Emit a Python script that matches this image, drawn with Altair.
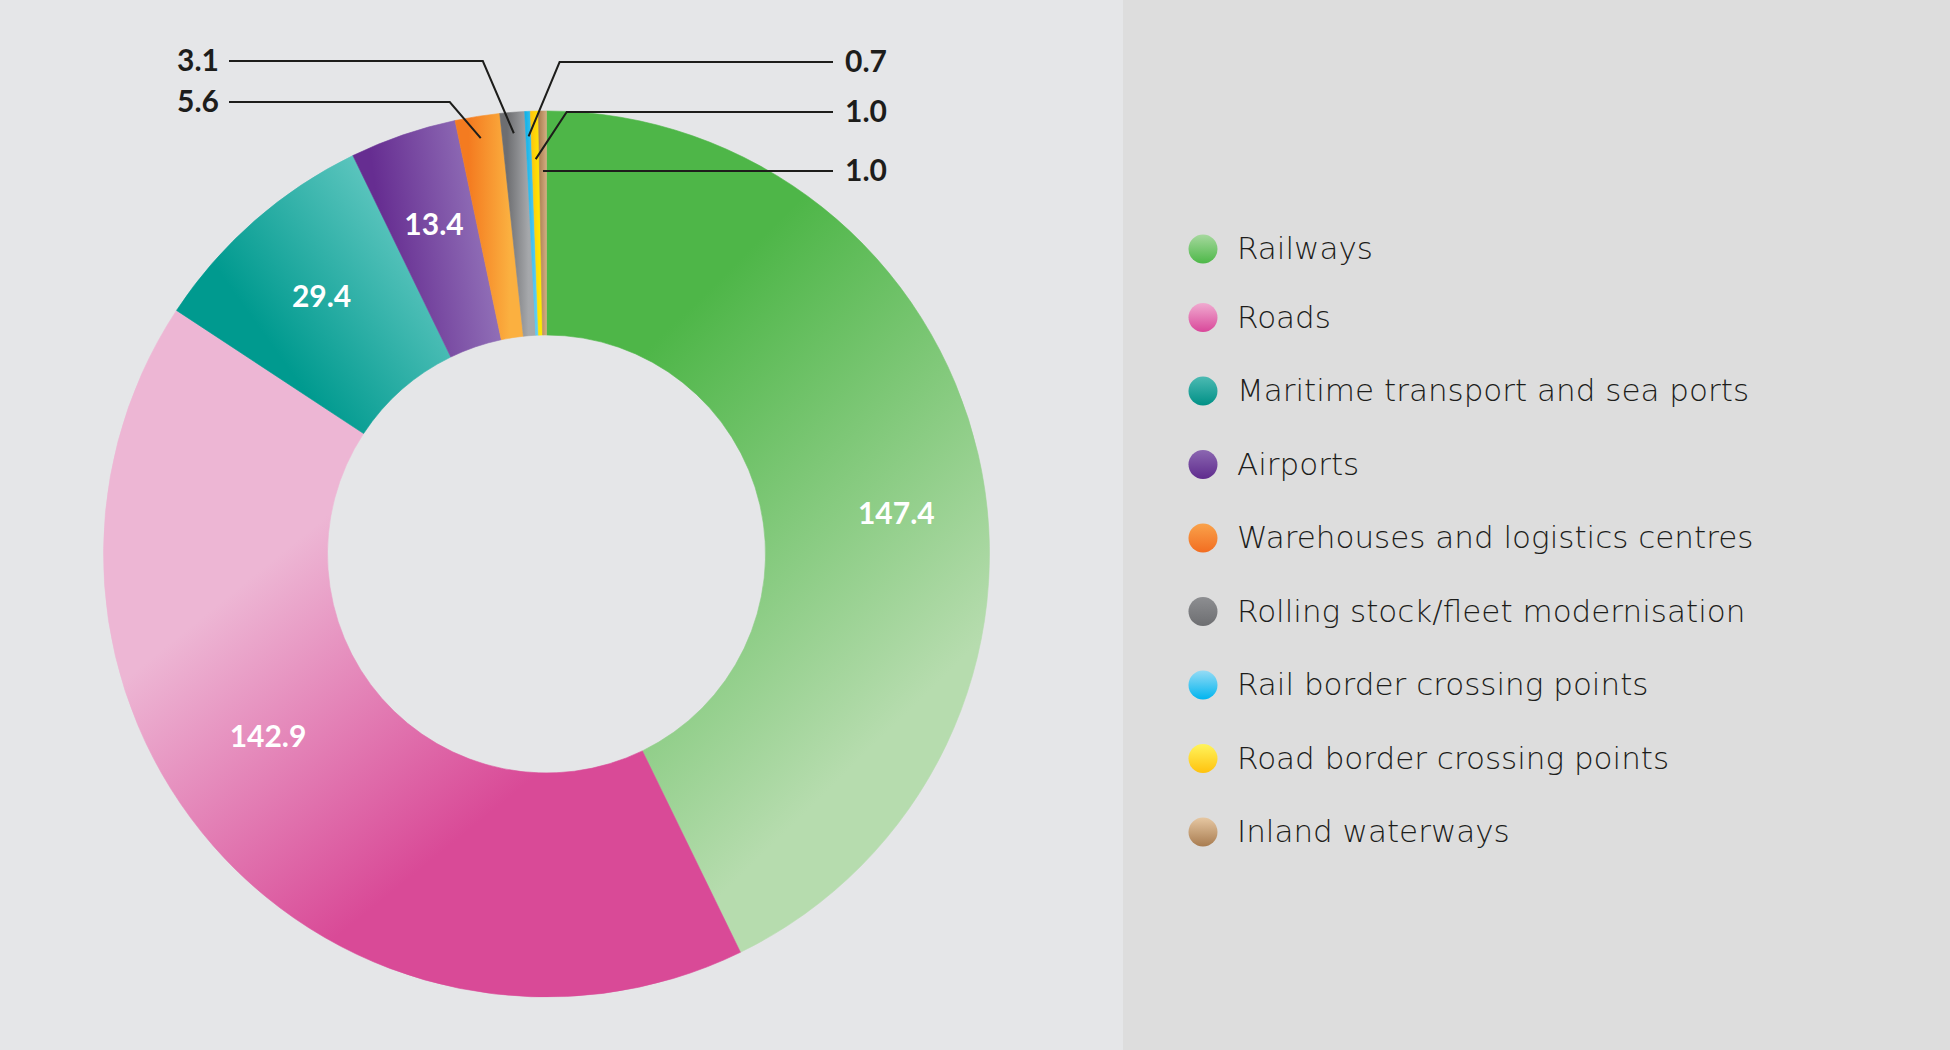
import math
import altair as alt
import pandas as pd

# ---------------- data ----------------
categories = [
    "Railways",
    "Roads",
    "Maritime transport and sea ports",
    "Airports",
    "Warehouses and logistics centres",
    "Rolling stock/fleet modernisation",
    "Rail border crossing points",
    "Road border crossing points",
    "Inland waterways",
]
values = [147.4, 142.9, 29.4, 13.4, 5.6, 3.1, 0.7, 1.0, 1.0]

# ---------------- layout / style ----------------
W, H = 1950, 1050
CX, CY = 546.5, 554
R_OUT, R_IN = 443, 219
PANEL_X = 1123
BG_LEFT, BG_RIGHT = "#e5e6e8", "#dddddd"
FONT = "Lato"
LEG_FONT = "DejaVu Sans"
INK = "#1d1d1b"


def grad(c1, c2, x1, y1, x2, y2):
    return {"gradient": "linear", "x1": x1, "y1": y1, "x2": x2, "y2": y2,
            "stops": [{"offset": 0, "color": c1}, {"offset": 1, "color": c2}]}


slice_fill = {
    "Railways": grad("#4eb648", "#b6dcae", 0.35, 0.22, 0.65, 0.8),
    "Roads": grad("#edb6d4", "#d94a97", 0.15, 0.45, 0.45, 0.85),
    "Maritime transport and sea ports": grad("#009a8f", "#60c7c0", 0.25, 0.55, 0.8, 0.15),
    "Airports": grad("#662d91", "#8f6db6", 0.2, 0.5, 0.85, 0.35),
    "Warehouses and logistics centres": grad("#f47b20", "#fbb040", 0.2, 0.5, 0.8, 0.5),
    "Rolling stock/fleet modernisation": grad("#6d6e71", "#a6a8ab", 0.2, 0.5, 0.8, 0.5),
    "Rail border crossing points": grad("#0bb1e8", "#6fd0f4", 0.0, 0.5, 1.0, 0.5),
    "Road border crossing points": grad("#ffc20e", "#fff200", 0.0, 0.5, 1.0, 0.5),
    "Inland waterways": grad("#a87c4f", "#d2ac80", 0.0, 0.5, 1.0, 0.5),
}
legend_fill = {
    "Railways": ("#a6d89e", "#4db848"),
    "Roads": ("#f0abd0", "#d9479a"),
    "Maritime transport and sea ports": ("#4cbab3", "#009086"),
    "Airports": ("#8b67b1", "#5f2b8d"),
    "Warehouses and logistics centres": ("#f9a24b", "#f26d21"),
    "Rolling stock/fleet modernisation": ("#8d8e91", "#6d6e71"),
    "Rail border crossing points": ("#95dbf5", "#00b5ef"),
    "Road border crossing points": ("#fff45c", "#ffc20e"),
    "Inland waterways": ("#e6c7a2", "#a87c50"),
}

# inside labels: radius and angular nudge (degrees)
inner_label_style = {
    "Railways": (352, 6.6),
    "Roads": (334, 7.8),
    "Maritime transport and sea ports": (341, 0.0),
    "Airports": (347, 0.0),
}
# outside labels with leader lines: side, label row y, leader radius (None = horizontal)
outer_label_style = {
    "Warehouses and logistics centres": ("left", 102, 421),
    "Rolling stock/fleet modernisation": ("left", 61, 422),
    "Rail border crossing points": ("right", 62, 418),
    "Road border crossing points": ("right", 112, 395),
    "Inland waterways": ("right", 171, None),
}
LEFT_LINE_X, RIGHT_LINE_X = 229, 833
LEFT_TEXT_X, RIGHT_TEXT_X = 219, 845
ELBOW_DX = 31

LEG_X, LEG_TEXT_X = 1203, 1237
LEG_Y0, LEG_STEP = 249, 73.5

# ---------------- tables ----------------
total = sum(values)
starts = []
acc = 0.0
for v in values:
    starts.append(acc)
    acc += v
df = pd.DataFrame({
    "category": categories,
    "value": values,
    "v0": starts,
    "v1": [s + v for s, v in zip(starts, values)],
})
df["mid"] = (df["v0"] + df["v1"]) / 2
df["label"] = [f"{v:.1f}" for v in values]

theta_scale = alt.Scale(domain=[0, total], range=[0, 2 * math.pi])
XS = alt.Scale(domain=[0, W], range=[0, W])
YS = alt.Scale(domain=[0, H], range=[0, H])

layers = []

# right panel background
layers.append(
    alt.Chart(pd.DataFrame({"a": [0]})).mark_rect(color=BG_RIGHT).encode(
        x=alt.value(PANEL_X), x2=alt.value(W), y=alt.value(0), y2=alt.value(H)
    )
)

# donut slices
for cat in categories:
    layers.append(
        alt.Chart(df).transform_filter(alt.datum.category == cat)
        .mark_arc(radius=R_OUT, innerRadius=R_IN, color=slice_fill[cat],
                  stroke=slice_fill[cat], strokeWidth=0.6)
        .encode(
            theta=alt.Theta("v0:Q", scale=theta_scale),
            theta2="v1:Q",
            x=alt.value(CX), y=alt.value(CY),
        )
    )

# inside value labels
for cat, (rad, nudge) in inner_label_style.items():
    layers.append(
        alt.Chart(df).transform_filter(alt.datum.category == cat)
        .mark_text(font=FONT, fontSize=30, fontWeight="bold", color="white",
                   radius=rad, thetaOffset=math.radians(nudge),
                   align="center", baseline="middle")
        .encode(
            theta=alt.Theta("mid:Q", scale=theta_scale),
            text="label:N",
            x=alt.value(CX), y=alt.value(CY),
        )
    )

# leader lines + outside labels
line_rows, text_rows = [], []
for cat, (side, row_y, rad) in outer_label_style.items():
    rec = df[df.category == cat].iloc[0]
    ang = rec["mid"] / total * 2 * math.pi
    if rad is None:
        rad = (CY - row_y) / math.cos(ang)
    px = CX + rad * math.sin(ang)
    py = CY - rad * math.cos(ang)
    sign = -1 if side == "left" else 1
    end_x = LEFT_LINE_X if side == "left" else RIGHT_LINE_X
    pts = [(end_x, row_y)]
    if abs(py - row_y) > 1:
        pts.append((px + sign * ELBOW_DX, row_y))
    pts.append((px, py))
    for k, (x, y) in enumerate(pts):
        line_rows.append({"category": cat, "k": k, "x": x, "y": y})
    text_rows.append({"category": cat, "label": rec["label"], "side": side,
                      "x": LEFT_TEXT_X if side == "left" else RIGHT_TEXT_X, "y": row_y})
lines_df = pd.DataFrame(line_rows)
otext_df = pd.DataFrame(text_rows)

layers.append(
    alt.Chart(lines_df).mark_line(color=INK, strokeWidth=2).encode(
        x=alt.X("x:Q", scale=XS, axis=None),
        y=alt.Y("y:Q", scale=YS, axis=None),
        detail="category:N",
        order="k:Q",
    )
)
for side, al in (("left", "right"), ("right", "left")):
    layers.append(
        alt.Chart(otext_df).transform_filter(alt.datum.side == side)
        .mark_text(font=FONT, fontSize=30, fontWeight="bold", color=INK,
                   align=al, baseline="middle", dy=1)
        .encode(
            x=alt.X("x:Q", scale=XS, axis=None),
            y=alt.Y("y:Q", scale=YS, axis=None),
            text="label:N",
        )
    )

# legend (manual, gradient dots)
leg_df = pd.DataFrame({
    "category": categories,
    "x": LEG_X,
    "tx": LEG_TEXT_X,
    "y": [LEG_Y0 + i * LEG_STEP - (5 if i > 0 else 0) for i in range(len(categories))],
})
for cat in categories:
    c1, c2 = legend_fill[cat]
    layers.append(
        alt.Chart(leg_df).transform_filter(alt.datum.category == cat)
        .mark_point(shape="circle", filled=True, size=841, opacity=1,
                    fill=grad(c1, c2, 0.5, 0.0, 0.5, 1.0), strokeWidth=0)
        .encode(
            x=alt.X("x:Q", scale=XS, axis=None),
            y=alt.Y("y:Q", scale=YS, axis=None),
        )
    )
layers.append(
    alt.Chart(leg_df).mark_text(font=LEG_FONT, fontSize=31, fontWeight=300, color=INK,
                                align="left", baseline="middle", dy=1)
    .encode(
        x=alt.X("tx:Q", scale=XS, axis=None),
        y=alt.Y("y:Q", scale=YS, axis=None),
        text="category:N",
    )
)

chart = (
    alt.layer(*layers)
    .properties(width=W, height=H, background=BG_LEFT, padding=0,
                autosize=alt.AutoSizeParams(type="none"))
    .configure_view(strokeWidth=0)
)

chart.save("out.html", embed_options={"renderer": "svg", "actions": False})
